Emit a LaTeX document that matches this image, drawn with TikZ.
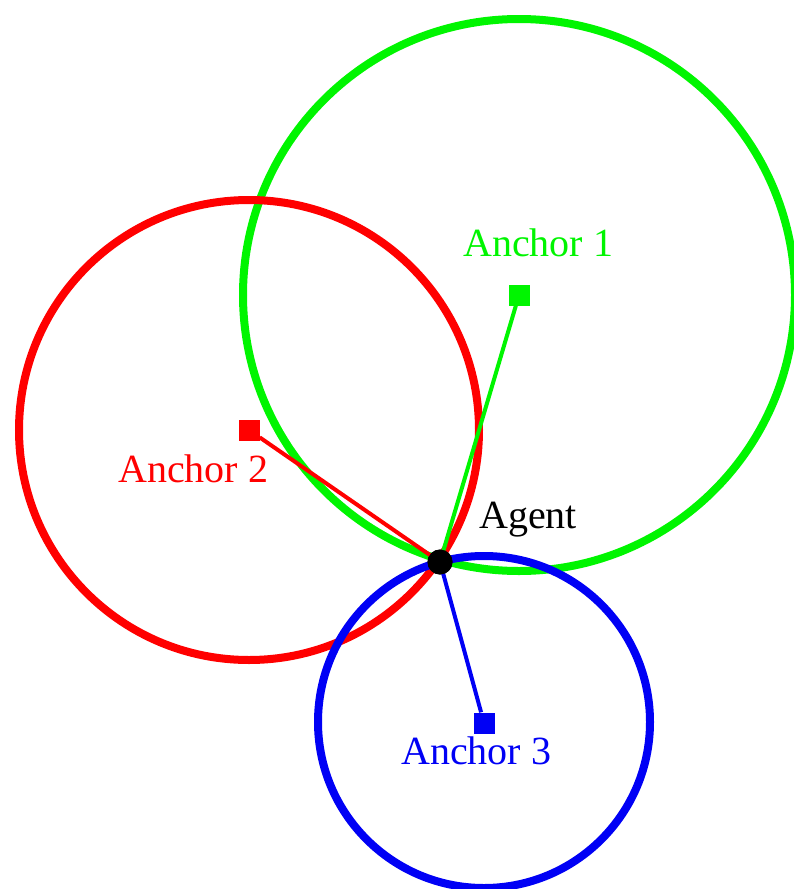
\documentclass[tikz,border=0pt]{standalone}
\usepackage{fontspec}
\setmainfont{Liberation Serif}
\begin{document}
\begin{tikzpicture}[x=1pt,y=-1pt,
  ring/.style={line width=8pt},
  link/.style={line width=4pt},
  anchorbox/.style={fill, minimum size=21pt, inner sep=0pt, draw=none},
  lbl/.style={anchor=base west, inner sep=0pt, font=\fontsize{40}{48}\selectfont}]
\useasboundingbox (0,0) rectangle (794,889);
\definecolor{agreen}{RGB}{0,245,0}
\definecolor{ared}{RGB}{255,0,0}
\definecolor{ablue}{RGB}{0,0,245}
% circles
\draw[ring, agreen] (519,295) circle[radius=276];
\draw[ring, ared] (249,430) circle[radius=230];
\draw[ring, ablue] (484,722) circle[radius=166];
% nodes
\node[anchorbox, agreen] (a1) at (519,295) {};
\node[anchorbox, ared] (a2) at (249,430) {};
\node[anchorbox, ablue] (a3) at (484,723) {};
\node[circle, fill=black, minimum size=25pt, inner sep=0pt] (ag) at (440,562) {};
% links
\draw[link, agreen] (ag.center) -- (a1);
\draw[link, ared] (ag.center) -- (a2);
\draw[link, ablue] (ag.center) -- (a3);
\node[circle, fill=black, minimum size=25pt, inner sep=0pt] at (ag.center) {};
% labels
\node[lbl, text=agreen] (l1) at (463,256) {Anchor 1};
\node[lbl, text=ared] (l2) at (118,482) {Anchor 2};
\node[lbl, text=ablue] (l3) at (401,764) {Anchor 3};
\node[lbl, text=black] (l4) at (479,528) {Agent};
\end{tikzpicture}
\end{document}
